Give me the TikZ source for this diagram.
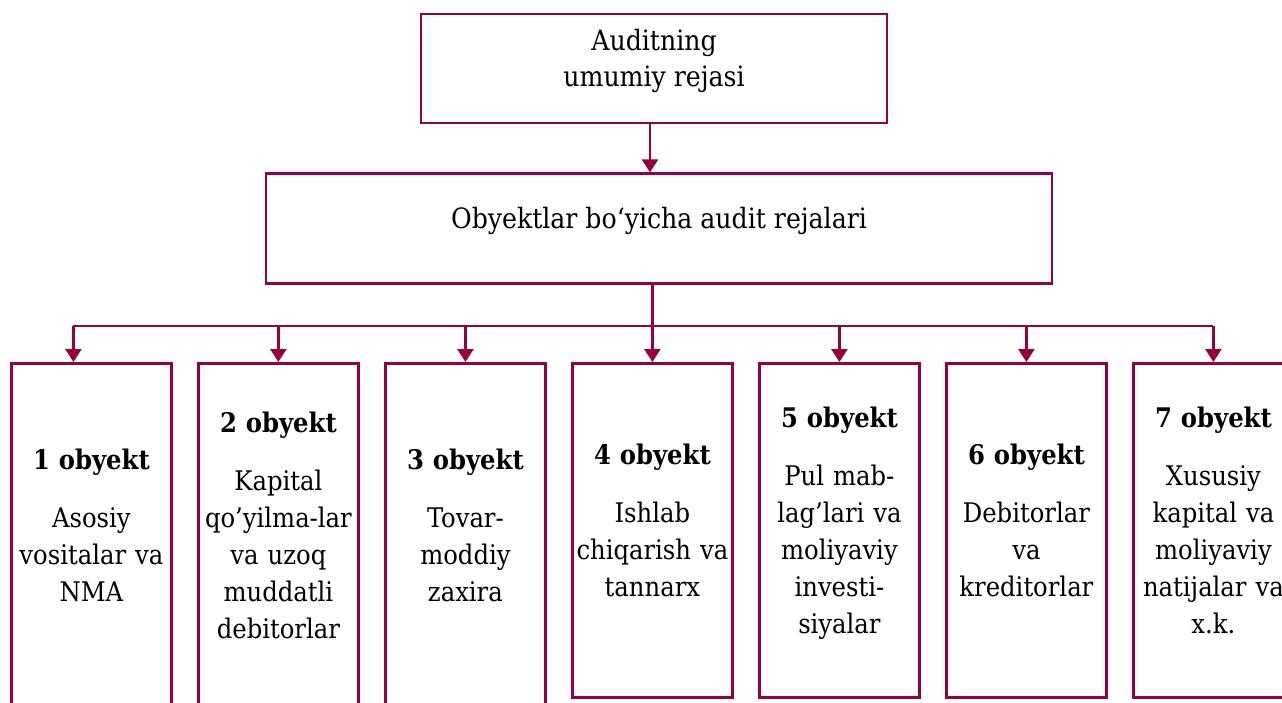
\documentclass[tikz,border=0pt]{standalone}
\usepackage{fontspec}
\setmainfont{DejaVu Serif Condensed}
\usepackage{xcolor}
\usetikzlibrary{arrows.meta, positioning}

\definecolor{frame}{RGB}{155,0,60}
\newcommand{\hstrut}{\rule{0pt}{24pt}}
\newcommand{\dstrut}{\rule[-24pt]{0pt}{0pt}}

\begin{document}
\begin{tikzpicture}[x=1pt, y=1pt,
        head/.style={rectangle, draw=frame, line width=2.8pt, minimum width=466pt, minimum height=109pt, align=center, font=\fontsize{28}{36}\selectfont},
        group/.style={rectangle, draw=frame, line width=2.8pt, minimum width=786pt, minimum height=110pt, align=center, font=\fontsize{28}{36}\selectfont},
        obj/.style={rectangle, draw=frame, line width=2.8pt, text width=156pt, minimum width=160pt, minimum height=334pt, inner sep=2pt, align=center, anchor=north west, font=\fontsize{27}{37}\selectfont},
        tall/.style={minimum height=344pt},
        arrow/.style={-{Triangle[width=16pt, length=13pt]}, color=frame, line width=2.4pt},
        bus/.style={draw=frame, line width=2.4pt}
    ]
    \useasboundingbox (0,0) rectangle (1282,-702);

    % plan boxes
    \node[head] (top) at (654,-68.5) {\hstrut Auditning\\ umumiy rejasi\dstrut};
    \node[group, below=48pt of top, xshift=5pt] (plans) {\hstrut Obyektlar bo‘yicha audit rejalari\dstrut};

    % objects
    \node[obj, tall] (b1) at (10,-362) {\hstrut\textbf{1 obyekt}\\[21pt] Asosiy\\ vositalar va\\ NMA\dstrut};
    \node[obj, tall, right=24.2pt of b1.north east, anchor=north west] (b2) {\hstrut\textbf{2 obyekt}\\[21pt] Kapital\\ qo’yilma-lar\\ va uzoq\\ muddatli\\ debitorlar\dstrut};
    \node[obj, tall, right=24.2pt of b2.north east, anchor=north west] (b3) {\hstrut\textbf{3 obyekt}\\[21pt] Tovar-\\ moddiy\\ zaxira\dstrut};
    \node[obj, right=24.2pt of b3.north east, anchor=north west] (b4) {\hstrut\textbf{4 obyekt}\\[21pt] Ishlab\\ chiqarish va\\ tannarx\dstrut};
    \node[obj, right=24.2pt of b4.north east, anchor=north west] (b5) {\hstrut\textbf{5 obyekt}\\[21pt] Pul mab-\\ lag’lari va\\ moliyaviy\\ investi-\\ siyalar\dstrut};
    \node[obj, right=24.2pt of b5.north east, anchor=north west] (b6) {\hstrut\textbf{6 obyekt}\\[21pt] Debitorlar\\ va\\ kreditorlar\dstrut};
    \node[obj, right=24.2pt of b6.north east, anchor=north west] (b7) {\hstrut\textbf{7 obyekt}\\[21pt] Xususiy\\ kapital va\\ moliyaviy\\ natijalar va\\ x.k.\dstrut};

    % connections
    \draw[arrow] ([xshift=-4pt]top.south) -- ([xshift=-4pt]top.south |- plans.north);
    \coordinate[below=41pt of plans.south] (split);
    \draw[arrow] (plans.south -| b4.north) -- (b4.north);
    \draw[bus] ([xshift=-18pt]b1.north |- split) -- (b7.north |- split);
    \draw[arrow] ([xshift=-18pt]b1.north |- split) -- ([xshift=-18pt]b1.north);
    \draw[arrow] (b2.north |- split) -- (b2.north);
    \draw[arrow] (b3.north |- split) -- (b3.north);
    \draw[arrow] (b5.north |- split) -- (b5.north);
    \draw[arrow] (b6.north |- split) -- (b6.north);
    \draw[arrow] (b7.north |- split) -- (b7.north);

\end{tikzpicture}
\end{document}
